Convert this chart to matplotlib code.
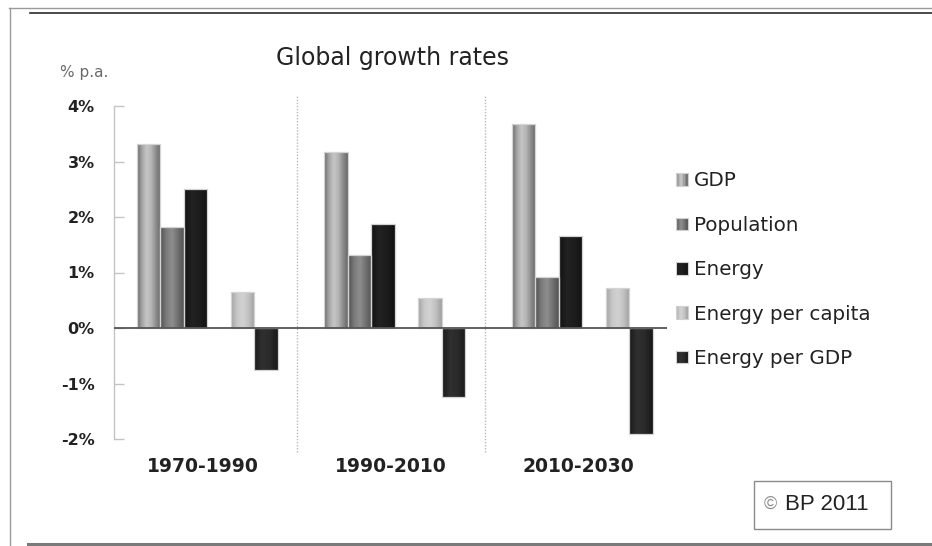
import numpy as np
import matplotlib
matplotlib.use("Agg")
import matplotlib.pyplot as plt
from matplotlib.colors import LinearSegmentedColormap
from matplotlib.patches import Rectangle
from matplotlib.lines import Line2D
from matplotlib.legend_handler import HandlerBase

# Growth rates, % per annum
periods = ["1970-1990", "1990-2010", "2010-2030"]
gdp = [3.31, 3.17, 3.67]
population = [1.82, 1.32, 0.92]
energy = [2.50, 1.87, 1.66]
energy_per_capita = [0.65, 0.54, 0.72]
energy_per_gdp = [-0.76, -1.24, -1.91]

series_names = ["GDP", "Population", "Energy", "Energy per capita", "Energy per GDP"]
series_values = [gdp, population, energy, energy_per_capita, energy_per_gdp]
y_ticks = [-2, -1, 0, 1, 2, 3, 4]
y_tick_labels = ["-2%", "-1%", "0%", "1%", "2%", "3%", "4%"]

# Shading for each series (horizontal gradient across the bar)
shades = {
    "GDP": ["#6a6a6a", "#a4a4a4", "#c6c6c6", "#b4b4b4", "#8c8c8c", "#686868"],
    "Population": ["#4e4e4e", "#7a7a7a", "#8e8e8e", "#707070", "#535353"],
    "Energy": ["#121212", "#222222", "#1c1c1c", "#121212"],
    "Energy per capita": ["#a2a2a2", "#c8c8c8", "#d2d2d2", "#c0c0c0", "#a0a0a0"],
    "Energy per GDP": ["#1a1a1a", "#303030", "#2a2a2a", "#181818"],
}
cmaps = {k: LinearSegmentedColormap.from_list(k, v) for k, v in shades.items()}

W, H, DPI = 932, 546, 100
fig = plt.figure(figsize=(W / DPI, H / DPI), dpi=DPI)
fig.patch.set_facecolor("white")

def px(x, y):
    return x / W, 1 - y / H

# Page frame lines
fig.add_artist(Line2D([9 / W, 1], [1 - 7.5 / H] * 2, color="#9a9a9a", lw=1.0))
fig.add_artist(Line2D([9.5 / W] * 2, [0, 1 - 7.5 / H], color="#9a9a9a", lw=1.0))
fig.add_artist(Line2D([30 / W, 1], [1 - 12.7 / H] * 2, color="#2a2a2a", lw=1.2))
fig.add_artist(Line2D([28 / W, 1], [1 - 544 / H] * 2, color="#7a7a7a", lw=2.2))

ax_l, ax_r, ax_t, ax_b = 114, 667, 106, 439
ax = fig.add_axes([ax_l / W, 1 - ax_b / H, (ax_r - ax_l) / W, (ax_b - ax_t) / H])
ax.set_facecolor("none")

x = np.arange(len(periods))
x_min, x_max = -0.476, 2.473
slot = 0.1253
left0 = -0.355
slots = [0, 1, 2, 4, 5]

for name, vals, k in zip(series_names, series_values, slots):
    pos = x + left0 + slot * (k + 0.5)
    bars = ax.bar(pos, vals, width=slot, color=shades[name][2], edgecolor="none",
                  zorder=2)
    grad = np.linspace(0, 1, 64).reshape(1, -1)
    for p in bars.patches:
        x0, y0 = p.get_x(), p.get_y()
        w, h = p.get_width(), p.get_height()
        im = ax.imshow(grad, extent=[x0, x0 + w, y0, y0 + h], cmap=cmaps[name],
                       aspect="auto", zorder=2.1, interpolation="bilinear")
        im.set_clip_path(p)
    ax.bar(pos, vals, width=slot, fill=False, edgecolor="#d4d4d4", lw=0.9, zorder=2.2)

ax.set_xlim(x_min, x_max)
ax.set_ylim(-2, 4)

# Zero line and period separators
ax.axhline(0, color="#555555", lw=1.3, zorder=3)
for s in [0.5, 1.5]:
    ax.plot([s, s], [-2.24, 4.2], color="#b8b8b8", lw=1.0, ls=(0, (1, 1.2)),
            clip_on=False, zorder=1)

for side in ["top", "right", "bottom"]:
    ax.spines[side].set_visible(False)
ax.spines["left"].set_color("#c4c4c4")
ax.spines["left"].set_linewidth(1.0)

ax.set_yticks(y_ticks)
ax.set_yticklabels(y_tick_labels, fontsize=11.5, fontweight="bold", color="#222222")
ax.tick_params(axis="y", direction="in", length=7, width=1.0, color="#c4c4c4", pad=14)

ax.set_xticks(x)
ax.set_xticklabels(periods, fontsize=13.5, fontweight="bold", color="#222222")
ax.tick_params(axis="x", length=0, pad=13)

# Titles
fig.text(*px(393, 58), "Global growth rates", fontsize=17, color="#222222",
         ha="center", va="center")
fig.text(*px(60, 72), "% p.a.", fontsize=11, color="#6a6a6a", ha="left", va="center")


class GradientHandler(HandlerBase):
    def create_artists(self, legend, orig_handle, xdescent, ydescent, width, height,
                       fontsize, trans):
        cmap = cmaps[orig_handle.get_label()]
        n = 8
        arts = []
        for i in range(n):
            r = Rectangle((-xdescent + width * i / n, -ydescent), width / n, height,
                          facecolor=cmap((i + 0.5) / n), edgecolor="none",
                          transform=trans)
            arts.append(r)
        arts.append(Rectangle((-xdescent, -ydescent), width, height, fill=False,
                              edgecolor="#d0d0d0", lw=0.8, transform=trans))
        return arts


handles = [Rectangle((0, 0), 1, 1, label=n) for n in series_names]
leg = fig.legend(handles=handles, labels=series_names,
                 handler_map={Rectangle: GradientHandler()},
                 loc="upper left", bbox_to_anchor=px(668, 163.5), frameon=False,
                 fontsize=14.3, handlelength=0.6, handleheight=0.6,
                 handletextpad=0.3, labelspacing=1.28, borderaxespad=0)
for t in leg.get_texts():
    t.set_color("#222222")

# Copyright box
fig.add_artist(Rectangle(px(754, 528.5), 137 / W, 48 / H, transform=fig.transFigure,
                         fill=False, edgecolor="#8a8a8a", lw=1.0))
fig.text(*px(764, 504.5), "©", fontsize=13, color="#8a8a8a", ha="left", va="center",
         family="Liberation Sans")
fig.text(*px(785, 504.5), "BP 2011", fontsize=16, color="#222222", ha="left",
         va="center", family="Liberation Sans")

fig.savefig("out.png", dpi=DPI, facecolor="white")
